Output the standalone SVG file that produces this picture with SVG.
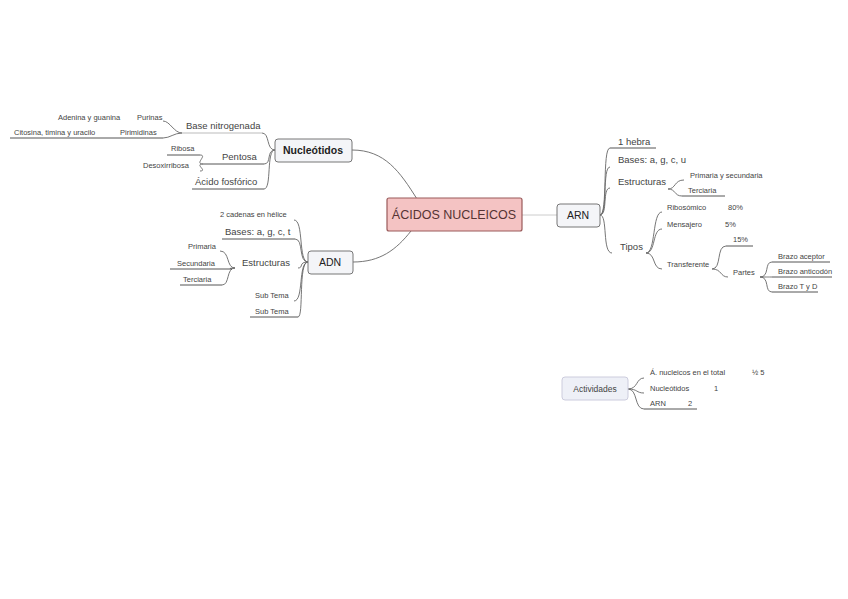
<svg xmlns="http://www.w3.org/2000/svg" width="848" height="599" viewBox="0 0 848 599">
<style>
.t{font-family:"Liberation Sans",Arial,sans-serif;fill:#444}
.s{font-size:7.5px}
.m{font-size:9.5px}
.n{font-size:10.5px;fill:#222;text-anchor:middle}
.u{stroke:#555;stroke-width:1;fill:none}
.uf{stroke:#bbb;stroke-width:1;fill:none}
.c{stroke:#666;stroke-width:0.9;fill:none}
.box{fill:#f4f5f8;stroke:#777;stroke-width:1}
</style>
<rect width="848" height="599" fill="#fff"/>
<g id="connectors">
<path class="c" d="M417 199 C400 172 385 150 352 150"/>
<path class="c" d="M411 231 C396 250 380 262 353 262"/>
<path d="M522 215 L557 215" stroke="#ccc" stroke-width="1" fill="none"/>
<!-- Nucleotidos bracket -->
<path class="c" d="M275 150 C266 150 270 133 262 133"/>
<path class="c" d="M275 150 C266 150 272 164 264 164"/>
<path class="c" d="M275 150 C266 150 272 189 264 189"/>
<path class="c" d="M182 133 C174 133 170 121 163 121"/>
<path class="c" d="M182 133 C174 133 170 138 163 138"/>
<path class="c" d="M203 164 C194 164 208 155 200 155"/>
<path class="c" d="M203 164 C194 164 208 171 200 171"/>
<!-- ADN bracket -->
<path class="c" d="M308 262 C298 262 304 220 294 220"/>
<path class="c" d="M308 262 C298 262 304 239 295 239"/>
<path class="c" d="M308 262 C298 262 304 268 298 268"/>
<path class="c" d="M308 262 C298 262 304 301 294 301"/>
<path class="c" d="M308 262 C298 262 304 317 298 317"/>
<path class="c" d="M235 268 C226 268 230 251 220 251"/>
<path class="c" d="M235 268 C228 268 230 269 232 269"/>
<path class="c" d="M235 268 C226 268 230 285 222 285"/>
<!-- ARN bracket -->
<path class="c" d="M600 215 C608 215 602 148 610 148"/>
<path class="c" d="M600 215 C608 215 602 167 610 167"/>
<path class="c" d="M600 215 C608 215 602 188 610 188"/>
<path class="c" d="M600 215 C608 215 602 253 612 253"/>
<path class="c" d="M668 189 C676 189 674 180 684 180"/>
<path class="c" d="M668 189 C676 189 674 196 682 196"/>
<path class="c" d="M646 253 C656 253 652 212 662 212"/>
<path class="c" d="M646 253 C656 253 652 229 662 229"/>
<path class="c" d="M646 253 C656 253 652 269 662 269"/>
<path class="c" d="M712 269 C722 269 716 246 726 246"/>
<path class="c" d="M712 269 C722 269 720 277 728 277"/>
<path class="c" d="M760 277 C770 277 764 262 772 262"/>
<path class="c" d="M760 277 C770 277 764 277 772 277"/>
<path class="c" d="M760 277 C770 277 764 292 772 292"/>
<!-- Actividades bracket -->
<path class="c" d="M628 389 C638 389 636 378 644 378"/>
<path class="c" d="M628 389 C638 389 636 393 644 393"/>
<path class="c" d="M628 389 C638 389 634 409 644 409"/>
</g>
<g id="central">
<rect x="387" y="198" width="135" height="33" rx="2" fill="#f4c3c3" stroke="#9a5a5a" stroke-width="1.2"/>
<text class="t" x="454" y="219" font-size="12.5" text-anchor="middle" fill="#553333" style="fill:#553333">ÁCIDOS NUCLEICOS</text>
</g>
<g id="nucleotidos">
<rect class="box" x="275" y="139" width="77" height="23" rx="3"/>
<text class="t n" x="313" y="154" font-weight="bold">Nucleótidos</text>
</g>
<g id="base-nitrogenada">
<text class="t m" x="186" y="129">Base nitrogenada</text>
<path class="uf" d="M182 133 H262"/>
</g>
<g id="purinas">
<text class="t s" x="137" y="120">Purinas</text>
<text class="t s" x="58" y="120">Adenina y guanina</text>
</g>
<g id="pirimidinas">
<text class="t s" x="120" y="135">Pirimidinas</text>
<text class="t s" x="14" y="135">Citosina, timina y uracilo</text>
<path class="u" d="M10 138 H163"/>
</g>
<g id="pentosa">
<text class="t m" x="222" y="160">Pentosa</text>
<path class="u" d="M203 164 H264"/>
</g>
<g id="ribosa">
<text class="t s" x="171" y="151">Ribosa</text>
<path class="u" d="M167 155 H200"/>
</g>
<g id="desoxirribosa">
<text class="t s" x="143" y="168">Desoxirribosa</text>
</g>
<g id="acido-fosforico">
<text class="t m" x="195" y="185">Ácido fosfórico</text>
<path class="u" d="M192 189 H264"/>
</g>
<g id="adn">
<rect class="box" x="308" y="251" width="45" height="23" rx="3"/>
<text class="t n" x="330" y="266">ADN</text>
</g>
<g id="adn-cadenas">
<text class="t s" x="220" y="217">2 cadenas en hélice</text>
</g>
<g id="adn-bases">
<text class="t m" x="225" y="235">Bases: a, g, c, t</text>
<path class="u" d="M222 239 H295"/>
</g>
<g id="adn-estructuras">
<text class="t m" x="242" y="266">Estructuras</text>
</g>
<g id="adn-primaria"><text class="t s" x="188" y="249">Primaria</text></g>
<g id="adn-secundaria"><text class="t s" x="177" y="266">Secundaria</text><path class="u" d="M170 269 H232"/></g>
<g id="adn-terciaria"><text class="t s" x="183" y="282">Terciaria</text><path class="u" d="M180 285 H222"/></g>
<g id="subtema1"><text class="t s" x="255" y="298">Sub Tema</text></g>
<g id="subtema2"><text class="t s" x="255" y="314">Sub Tema</text><path class="u" d="M250 317 H298"/></g>
<g id="arn">
<rect class="box" x="557" y="204" width="43" height="23" rx="3"/>
<text class="t n" x="578" y="219">ARN</text>
</g>
<g id="arn-hebra"><text class="t m" x="618" y="145">1 hebra</text><path class="u" d="M610 148 H656"/></g>
<g id="arn-bases"><text class="t m" x="618" y="163">Bases: a, g, c, u</text></g>
<g id="arn-estructuras"><text class="t m" x="618" y="185">Estructuras</text></g>
<g id="arn-primsec"><text class="t s" x="690" y="178">Primaria y secundaria</text></g>
<g id="arn-terciaria"><text class="t s" x="688" y="193">Terciaria</text><path class="u" d="M682 196 H725"/></g>
<g id="tipos"><text class="t m" x="620" y="250">Tipos</text></g>
<g id="ribosomico"><text class="t s" x="667" y="210">Ribosómico</text><text class="t s" x="728" y="210">80%</text></g>
<g id="mensajero"><text class="t s" x="667" y="227">Mensajero</text><text class="t s" x="725" y="227">5%</text></g>
<g id="transferente"><text class="t s" x="667" y="267">Transferente</text></g>
<g id="t15"><text class="t s" x="733" y="242">15%</text><path class="u" d="M726 246 H753"/></g>
<g id="partes"><text class="t s" x="733" y="275">Partes</text></g>
<g id="brazo-aceptor"><text class="t s" x="778" y="259">Brazo aceptor</text><path class="u" d="M772 262 H830"/></g>
<g id="brazo-anticodon"><text class="t s" x="778" y="274">Brazo anticodón</text><path class="u" d="M772 277 H832"/></g>
<g id="brazo-ty"><text class="t s" x="778" y="289">Brazo T y D</text><path class="u" d="M772 292 H818"/></g>
<g id="actividades">
<rect x="562" y="377" width="66" height="23" rx="3" fill="#eef0f7" stroke="#ccd" stroke-width="1"/>
<text class="t" x="595" y="392" font-size="8.5" text-anchor="middle">Actividades</text>
</g>
<g id="act1"><text class="t s" x="650" y="375">Á. nucleicos en el total</text><text class="t s" x="752" y="375">½ 5</text></g>
<g id="act2"><text class="t s" x="650" y="391">Nucleótidos</text><text class="t s" x="714" y="391">1</text></g>
<g id="act3"><text class="t s" x="650" y="406">ARN</text><text class="t s" x="688" y="406">2</text><path class="u" d="M644 409 H697"/></g>
</svg>
